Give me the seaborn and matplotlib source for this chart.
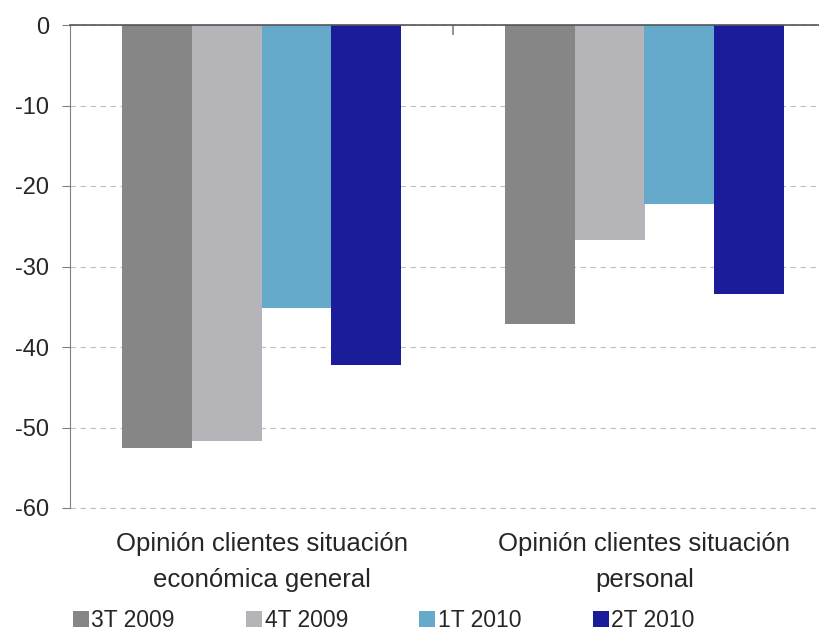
import matplotlib
matplotlib.use("Agg")
import matplotlib.pyplot as plt
import seaborn as sns
import pandas as pd

categories = ["Opinión clientes situación\neconómica general",
              "Opinión clientes situación\npersonal"]
periods = ["3T 2009", "4T 2009", "1T 2010", "2T 2010"]
v_3t2009 = [-52.5, -37.2]
v_4t2009 = [-51.7, -26.7]
v_1t2010 = [-35.2, -22.2]
v_2t2010 = [-42.2, -33.4]
yticks = [0, -10, -20, -30, -40, -50, -60]

colors = ["#868686", "#B4B4B9", "#66AACB", "#1A1C9A"]

rows = []
for per, vals in zip(periods, [v_3t2009, v_4t2009, v_1t2010, v_2t2010]):
    for cat, v in zip(categories, vals):
        rows.append({"cat": cat, "period": per, "value": v})
df = pd.DataFrame(rows)

sns.set_style("white")
plt.rcParams["font.family"] = ["Liberation Sans", "DejaVu Sans"]
plt.rcParams["axes.unicode_minus"] = False

fig = plt.figure(figsize=(8.19, 6.35), dpi=100)
ax = fig.add_axes([70 / 819, 127 / 635, 766 / 819, 483 / 635])

sns.barplot(data=df, x="cat", y="value", hue="period", order=categories,
            hue_order=periods, palette=colors, width=0.726, gap=0,
            saturation=1, linewidth=0, ax=ax, legend=True)

ax.set_ylim(-60, 0)
ax.set_xlim(-0.5, 1.5)
ax.set_yticks(yticks)
ax.set_yticklabels([str(t) for t in yticks], fontsize=17)
ax.yaxis.grid(True, linestyle=(0, (5, 4)), color="#BFBFBF", linewidth=0.8)
ax.axhline(-60, linestyle=(0, (5, 4)), color="#BFBFBF", linewidth=0.8,
           clip_on=False, zorder=0)
ax.set_axisbelow(True)
ax.set_xlabel("")
ax.set_ylabel("")

for s in ["right", "bottom"]:
    ax.spines[s].set_visible(False)
ax.spines["left"].set_color("#808080")
ax.spines["top"].set_color("#555555")
ax.spines["top"].set_linewidth(1.2)

ax.tick_params(axis="y", left=True, length=6, color="#808080", pad=9)
ax.tick_params(axis="x", which="major", bottom=False, top=False,
               labelsize=18.5, pad=14)
for lbl in ax.get_xticklabels():
    lbl.set_linespacing(1.6)
ax.set_xticks([0.5], minor=True)
ax.tick_params(axis="x", which="minor", top=True, bottom=False,
               direction="in", length=7, color="#808080", width=1.2)

handles, labels = ax.get_legend_handles_labels()
ax.get_legend().remove()
fig.legend(handles, labels, loc="lower left", bbox_to_anchor=(52 / 819, -0.028),
           ncol=4, frameon=False, fontsize=16.5, handlelength=0.7,
           handleheight=0.7, handletextpad=0.12, columnspacing=3.1)

fig.savefig("out.png", dpi=100)
